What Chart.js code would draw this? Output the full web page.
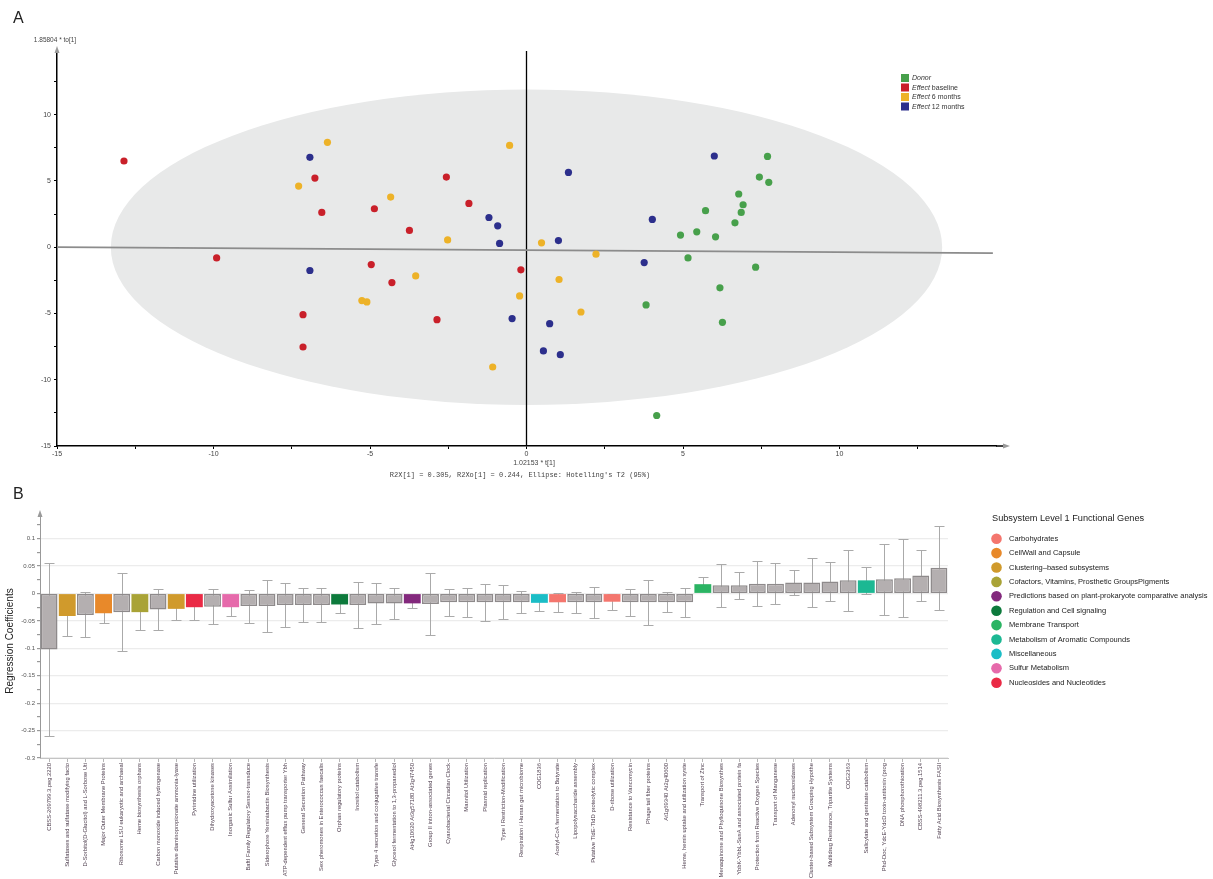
<!DOCTYPE html>
<html>
<head>
<meta charset="utf-8">
<script src="https://cdn.jsdelivr.net/npm/chart.js@4.4.1/dist/chart.umd.min.js"></script>
<style>
  html, body { margin: 0; padding: 0; background: #fff; }
  #wrap { position: relative; width: 1213px; height: 879px; overflow: hidden; }
  #scoreCanvas { position: absolute; left: 0; top: 0; }
  #coefCanvas { position: absolute; left: 0; top: 480px; }
</style>
</head>
<body>
<div id="wrap">
  <canvas id="scoreCanvas" width="1213" height="480"></canvas>
  <canvas id="coefCanvas" width="1213" height="399"></canvas>
</div>
<script>
const FONT = "'Liberation Sans', Arial, sans-serif";
const MONO = "'Liberation Mono', 'DejaVu Sans Mono', monospace";

// ---------- Panel A: OPLS-DA scores (t[1] vs to[1]) ----------
const groupNames  = ['Donor', 'Effect baseline', 'Effect 6 months', 'Effect 12 months'];
const groupColors = ['#47a04b', '#c9202a', '#edb228', '#2c2f8c'];

const donorX    = [7.70, 7.44, 7.74, 6.78, 6.92, 5.72, 6.86, 6.66, 4.92, 5.44, 6.04, 5.16, 7.32, 6.18, 3.82, 6.26, 4.16];
const donorY    = [6.85, 5.29, 4.89, 4.01, 3.20, 2.75, 2.62, 1.84, 0.91, 1.16, 0.78, -0.81, -1.51, -3.07, -4.36, -5.67, -12.70];
const baselineX = [-12.86, -9.90, -6.76, -6.54, -4.86, -4.96, -7.14, -7.14, -3.74, -4.30, -2.56, -1.84, -2.86, -0.18];
const baselineY = [6.50, -0.81, 5.21, 2.62, 2.90, -1.31, -5.09, -7.53, 1.26, -2.67, 5.29, 3.30, -5.47, -1.71];
const month6X   = [-6.36, -7.28, -4.34, -0.54, -2.52, -3.54, -5.26, -5.10, -0.22, -1.08, 0.48, 2.22, 1.04, 1.74];
const month6Y   = [7.91, 4.61, 3.78, 7.68, 0.55, -2.17, -4.03, -4.13, -3.68, -9.04, 0.33, -0.53, -2.44, -4.89];
const month12X  = [-6.92, -6.92, -1.20, -0.92, -0.86, 1.34, 1.02, -0.46, 0.74, 0.54, 1.08, 4.02, 3.76, 6.00];
const month12Y  = [6.78, -1.76, 2.24, 1.61, 0.28, 5.64, 0.50, -5.39, -5.77, -7.83, -8.11, 2.09, -1.16, 6.88];

// predictive direction line and the t[1] = 0 reference
const trendX = [-15, 14.9];
const trendY = [0.0, -0.45];
const zeroX  = [0, 0];
const zeroY  = [-15, 14.8];

// Hotelling's T2 (95%) ellipse semi-axes in score units
const ellipseAxes = [13.28, 11.9];

const scoreRange = { xMin: -15, xMax: 15, yMin: -15, yMax: 14.8 };

function pairs(xs, ys) { return xs.map((x, i) => ({ x: x, y: ys[i] })); }
function isMult(v, s) { const r = v / s; return Math.abs(r - Math.round(r)) < 1e-6; }

const scoreSeries = [donorX, baselineX, month6X, month12X].map((xs, i) => ({
  label: groupNames[i],
  data: pairs(xs, [donorY, baselineY, month6Y, month12Y][i]),
  backgroundColor: groupColors[i],
  borderWidth: 0,
  pointRadius: 3.6,
  order: 0
}));

const scoreDecor = {
  id: 'scoreDecor',
  beforeDatasetsDraw(chart) {
    const { ctx, scales: { x, y } } = chart;
    const cx = x.getPixelForValue(0), cy = y.getPixelForValue(0);
    const rx = x.getPixelForValue(ellipseAxes[0]) - cx;
    const ry = cy - y.getPixelForValue(ellipseAxes[1]);
    ctx.save();
    ctx.beginPath();
    ctx.ellipse(cx, cy, rx, ry, 0, 0, Math.PI * 2);
    ctx.fillStyle = '#e8e9e9';
    ctx.fill();
    ctx.restore();
  },
  afterDraw(chart) {
    const { ctx, chartArea: a } = chart;
    ctx.save();
    // axis arrow heads
    ctx.strokeStyle = '#000';
    ctx.lineWidth = 1.5;
    ctx.beginPath();
    ctx.moveTo(a.right, a.bottom); ctx.lineTo(a.right + 8, a.bottom);
    ctx.stroke();
    ctx.fillStyle = '#9a9a9a';
    ctx.beginPath();
    ctx.moveTo(a.right + 14, a.bottom);
    ctx.lineTo(a.right + 7, a.bottom - 2.5);
    ctx.lineTo(a.right + 7, a.bottom + 2.5);
    ctx.closePath(); ctx.fill();
    ctx.beginPath();
    ctx.moveTo(a.left, a.top - 5);
    ctx.lineTo(a.left - 2.5, a.top + 2);
    ctx.lineTo(a.left + 2.5, a.top + 2);
    ctx.closePath(); ctx.fill();

    // panel letter and axis titles
    ctx.fillStyle = '#222';
    ctx.font = '16px ' + FONT;
    ctx.textBaseline = 'alphabetic';
    ctx.textAlign = 'left';
    ctx.fillText('A', 13, 23);
    ctx.fillStyle = '#444';
    ctx.font = '6.5px ' + FONT;
    ctx.textAlign = 'center';
    ctx.textBaseline = 'middle';
    ctx.fillText('1.85804 * to[1]', 55, 40);
    ctx.font = '7px ' + FONT;
    ctx.fillText('1.02153 * t[1]', 534, 463);
    ctx.font = '7px ' + MONO;
    ctx.fillText("R2X[1] = 0.305, R2Xo[1] = 0.244, Ellipse: Hotelling's T2 (95%)", 520, 475);

    // legend
    ctx.textAlign = 'left';
    groupNames.forEach((name, i) => {
      const top = 74 + i * 9.5;
      ctx.fillStyle = groupColors[i];
      ctx.fillRect(901, top, 8, 8);
      ctx.fillStyle = '#333';
      const parts = name.split(' ');
      ctx.font = 'italic 7px ' + FONT;
      ctx.fillText(parts[0], 912, top + 4.5);
      if (parts.length > 1) {
        const w = ctx.measureText(parts[0] + ' ').width;
        ctx.font = '7px ' + FONT;
        ctx.fillText(parts.slice(1).join(' '), 912 + w, top + 4.5);
      }
    });
    ctx.restore();
  }
};

new Chart(document.getElementById('scoreCanvas'), {
  type: 'scatter',
  data: {
    datasets: scoreSeries.concat([
      { data: pairs(trendX, trendY), showLine: true, borderColor: '#8c8c8c', borderWidth: 1.6,
        pointRadius: 0, order: 5 },
      { data: pairs(zeroX, zeroY), showLine: true, borderColor: '#000', borderWidth: 1.3,
        pointRadius: 0, order: 6 }
    ])
  },
  options: {
    responsive: false,
    animation: false,
    devicePixelRatio: 1,
    layout: { padding: { left: 0, right: 217, top: 51, bottom: 0 } },
    plugins: { legend: { display: false }, tooltip: { enabled: false } },
    scales: {
      x: {
        type: 'linear', min: scoreRange.xMin, max: scoreRange.xMax,
        ticks: {
          stepSize: 2.5, autoSkip: false, maxRotation: 0, padding: 1,
          font: { size: 7, family: FONT }, color: '#444',
          callback: v => (isMult(v, 5) && v < scoreRange.xMax) ? String(v) : ''
        },
        grid: {
          drawOnChartArea: false, drawTicks: true, tickLength: 3,
          tickColor: c => isMult(c.tick.value, 2.5) && c.tick.value < scoreRange.xMax ? '#000' : 'rgba(0,0,0,0)'
        },
        border: { display: true, color: '#000', width: 1.5 },
        afterFit: s => { s.height = 34; }
      },
      y: {
        type: 'linear', min: scoreRange.yMin, max: scoreRange.yMax,
        ticks: {
          stepSize: 2.5, autoSkip: false, padding: 3,
          font: { size: 7, family: FONT }, color: '#444',
          callback: v => isMult(v, 5) ? String(v) : ''
        },
        grid: {
          drawOnChartArea: false, drawTicks: true, tickLength: 3,
          tickColor: c => isMult(c.tick.value, 2.5) ? '#000' : 'rgba(0,0,0,0)'
        },
        border: { display: true, color: '#000', width: 1.5 },
        afterFit: s => { s.width = 57; }
      }
    }
  },
  plugins: [scoreDecor]
});

// ---------- Panel B: regression coefficients by SEED subsystem ----------
const subsystemNames = [
  'Carbohydrates',
  'CellWall and Capsule',
  'Clustering\u2013based subsystems',
  'Cofactors, Vitamins, Prosthetic GroupsPigments',
  'Predictions based on plant-prokaryote comparative analysis',
  'Regulation and Cell signaling',
  'Membrane Transport',
  'Metabolism of Aromatic Compounds',
  'Miscellaneous',
  'Sulfur Metabolism',
  'Nucleosides and Nucleotides'
];
const subsystemColors = ['#f4766e', '#e8892a', '#d09a2c', '#a9a336', '#83297d', '#0d7a3c',
                         '#2bb463', '#1cb893', '#1bbdc6', '#e66aab', '#ea2a45'];

const geneLabels = [
  'CBSS-269799.3.peg.2220',
  'Sulfatases and sulfatase modifying facto',
  'D-Sorbitol(D-Glucitol) and L-Sorbose Uti',
  'Major Outer Membrane Proteins',
  'Ribosome LSU eukaryotic and archaeal',
  'Heme biosynthesis orphans',
  'Carbon monoxide induced hydrogenase',
  'Putative diaminopropionate ammonia-lyase',
  'Pyrimidine utilization',
  'Dihydroxyacetone kinases',
  'Inorganic Sulfur Assimilation',
  'BaftI Family Regulatory Sensor-transduce',
  'Siderophore Yersiniabactin Biosynthesis',
  'ATP-dependent efflux pump transporter Ybh',
  'General Secretion Pathway',
  'Sex pheromones in Enterococcus faecalis',
  'Orphan regulatory proteins',
  'Inositol catabolism',
  'Type 4 secretion and conjugative transfe',
  'Glycerol fermentation to 1,3-propanediol',
  'At4g10620 At3g57180 At3g47450',
  'Group II intron-associated genes',
  'Cyanobacterial Circadian Clock',
  'Mannitol Utilization',
  'Plasmid replication',
  'Type I Restriction-Modification',
  'Respiration / Human gut microbiome',
  'COG1836',
  'Acetyl-CoA fermentation to Butyrate',
  'Lipopolysaccharide assembly',
  'Putative TldE-TldD proteolytic complex',
  'D-ribose utilization',
  'Resistance to Vancomycin',
  'Phage tail fiber proteins',
  'At1g69340 At2g40600',
  'Heme, hemin uptake and utilization syste',
  'Transport of Zinc',
  'Menaquinone and Phylloquinone Biosynthes',
  'YbbK-YbbL-SusA and associated protein fa',
  'Protection from Reactive Oxygen Species',
  'Transport of Manganese',
  'Adenosyl nucleosidases',
  'Cluster-based Subsystem Grouping Hypothe',
  'Multidrug Resistance, Tripartite Systems',
  'COG2363',
  'Salicylate and gentisate catabolism',
  'Phd-Doc, YdcE-YdcD toxin-antitoxin (prog',
  'DNA phosphorothioation',
  'CBSS-498211.3.peg.1514',
  'Fatty Acid Biosynthesis FASII'
];

// subsystem index per gene (-1 = not assigned to a highlighted subsystem)
const geneSubsystem = [
  -1, 2, -1, 1, -1, 3, -1, 2, 10, -1,
   9, -1, -1, -1, -1, -1, 5, -1, -1, -1,
   4, -1, -1, -1, -1, -1, -1, 8, 0, -1,
  -1, 0, -1, -1, -1, -1, 6, -1, -1, -1,
  -1, -1, -1, -1, -1, 7, -1, -1, -1, -1
];

const coefValues = [
  -0.102, -0.041, -0.039, -0.036, -0.034, -0.034, -0.029, -0.028, -0.025, -0.024,
  -0.025, -0.023, -0.023, -0.021, -0.021, -0.021, -0.020, -0.021, -0.018, -0.018,
  -0.018, -0.019, -0.016, -0.016, -0.016, -0.016, -0.016, -0.017, -0.016, -0.016,
  -0.016, -0.015, -0.016, -0.016, -0.016, -0.016, 0.017, 0.015, 0.015, 0.018,
   0.018, 0.020, 0.020, 0.022, 0.024, 0.024, 0.026, 0.028, 0.033, 0.047
];
const coefErrors = [
  0.157, 0.036, 0.041, 0.017, 0.071, 0.032, 0.038, 0.021, 0.024, 0.032,
  0.016, 0.030, 0.047, 0.040, 0.031, 0.031, 0.016, 0.042, 0.037, 0.028,
  0.009, 0.056, 0.025, 0.026, 0.034, 0.031, 0.020, 0.015, 0.017, 0.019,
  0.028, 0.015, 0.025, 0.041, 0.018, 0.026, 0.013, 0.039, 0.025, 0.041,
  0.038, 0.023, 0.044, 0.035, 0.055, 0.024, 0.065, 0.071, 0.046, 0.077
];

const coefTicks = { min: -0.3, max: 0.145, step: 0.025, labelStep: 0.05 };

const barFill   = geneSubsystem.map(k => k < 0 ? '#b4afb0' : subsystemColors[k]);
const barBorder = geneSubsystem.map(k => k < 0 ? '#8e8a8b' : subsystemColors[k]);
const barLine   = geneSubsystem.map(k => k < 0 ? 1.5 : 0);

const coefDecor = {
  id: 'coefDecor',
  beforeDatasetsDraw(chart) {
    const { ctx, scales: { y } } = chart;
    const meta = chart.getDatasetMeta(0);
    ctx.save();
    ctx.strokeStyle = '#aaaaaa';
    ctx.lineWidth = 1;
    meta.data.forEach((bar, i) => {
      const x = Math.round(bar.x) + 0.5;
      const yt = Math.round(y.getPixelForValue(coefValues[i] + coefErrors[i])) + 0.5;
      const yb = Math.round(y.getPixelForValue(coefValues[i] - coefErrors[i])) + 0.5;
      ctx.beginPath();
      ctx.moveTo(x, yt); ctx.lineTo(x, yb);
      ctx.moveTo(x - 5, yt); ctx.lineTo(x + 5, yt);
      ctx.moveTo(x - 5, yb); ctx.lineTo(x + 5, yb);
      ctx.stroke();
    });
    ctx.restore();
  },
  afterDraw(chart) {
    const { ctx, chartArea: a } = chart;
    ctx.save();
    // y axis arrow
    ctx.fillStyle = '#9a9a9a';
    ctx.beginPath();
    ctx.moveTo(a.left, a.top - 4);
    ctx.lineTo(a.left - 2.5, a.top + 3);
    ctx.lineTo(a.left + 2.5, a.top + 3);
    ctx.closePath(); ctx.fill();

    // panel letter
    ctx.fillStyle = '#222';
    ctx.font = '16px ' + FONT;
    ctx.textAlign = 'left';
    ctx.textBaseline = 'alphabetic';
    ctx.fillText('B', 13, 19);

    // y title
    ctx.save();
    ctx.translate(10, 161);
    ctx.rotate(-Math.PI / 2);
    ctx.textAlign = 'center';
    ctx.textBaseline = 'middle';
    ctx.font = '10px ' + FONT;
    ctx.fillText('Regression Coefficients', 0, 0);
    ctx.restore();

    // subsystem legend
    ctx.textBaseline = 'middle';
    ctx.textAlign = 'left';
    ctx.fillStyle = '#222';
    ctx.font = '9.2px ' + FONT;
    ctx.fillText('Subsystem Level 1 Functional Genes', 992, 38);
    ctx.font = '7.5px ' + FONT;
    subsystemNames.forEach((name, i) => {
      const cy = 58.7 + i * 14.4;
      ctx.fillStyle = subsystemColors[i];
      ctx.beginPath();
      ctx.arc(996.5, cy, 5.3, 0, Math.PI * 2);
      ctx.fill();
      ctx.fillStyle = '#222';
      ctx.fillText(name, 1009, cy);
    });
    ctx.restore();
  }
};

new Chart(document.getElementById('coefCanvas'), {
  type: 'bar',
  data: {
    labels: geneLabels,
    datasets: [{
      data: coefValues,
      backgroundColor: barFill,
      borderColor: barBorder,
      borderWidth: barLine,
      borderSkipped: false,
      barPercentage: 0.93,
      categoryPercentage: 1
    }]
  },
  options: {
    responsive: false,
    animation: false,
    devicePixelRatio: 1,
    layout: { padding: { left: 0, right: 265, top: 34, bottom: 0 } },
    plugins: { legend: { display: false }, tooltip: { enabled: false } },
    scales: {
      x: {
        ticks: {
          autoSkip: false, minRotation: 90, maxRotation: 90, padding: 1,
          font: { size: 5.8, family: FONT }, color: '#4e3e4e'
        },
        grid: { drawOnChartArea: false, offset: false, tickLength: 4, color: '#b5b5b5' },
        border: { display: true, color: '#c4c4c4', width: 1 },
        afterFit: s => { s.height = 121; }
      },
      y: {
        min: coefTicks.min, max: coefTicks.max,
        ticks: {
          stepSize: coefTicks.step, autoSkip: false, padding: 2,
          font: { size: 6, family: FONT }, color: '#555',
          callback: v => isMult(v, coefTicks.labelStep) ? String(+v.toFixed(3)) : ''
        },
        grid: {
          color: c => isMult(c.tick.value, coefTicks.labelStep) ? '#ececec' : 'rgba(0,0,0,0)',
          tickColor: c => isMult(c.tick.value, coefTicks.step) ? '#999' : 'rgba(0,0,0,0)',
          tickLength: 3, lineWidth: 1.2
        },
        border: { display: true, color: '#999', width: 1 },
        afterFit: s => { s.width = 40; }
      }
    }
  },
  plugins: [coefDecor]
});
</script>
</body>
</html>
